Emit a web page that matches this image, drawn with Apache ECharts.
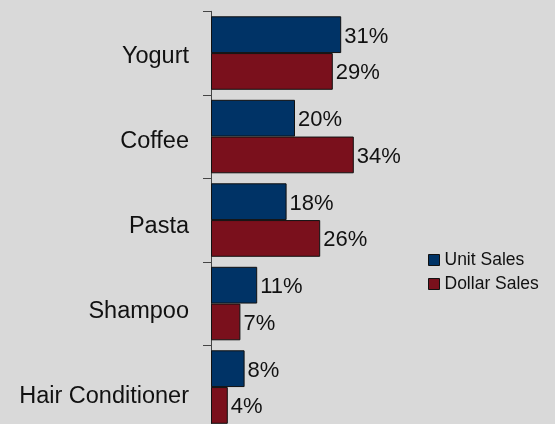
<!DOCTYPE html>
<html>
<head>
<meta charset="utf-8">
<script src="https://cdn.jsdelivr.net/npm/echarts@6/dist/echarts.min.js"></script>
<style>
html,body{margin:0;padding:0;background:#d9d9d9;}
#chart{width:555px;height:424px;}
</style>
</head>
<body>
<div id="chart"></div>
<script>
const categories = ['Yogurt', 'Coffee', 'Pasta', 'Shampoo', 'Hair Conditioner'];
const unitSales = [31, 20, 18, 11, 8];
const dollarSales = [29, 34, 26, 7, 4];
const seriesNames = ['Unit Sales', 'Dollar Sales'];

const FONT = 'Liberation Sans, Arial, sans-serif';
const chart = echarts.init(document.getElementById('chart'));
const labelStyle = {
  show: true, position: 'right', distance: 3, offset: [0, 2],
  fontFamily: FONT, fontSize: 22, color: '#111',
  formatter: p => p.value + '%'
};
chart.setOption({
  backgroundColor: '#d9d9d9',
  animation: false,
  grid: [
    { left: 211, width: 210, top: 11.3, height: 417.5, containLabel: false, outerBoundsMode: 'none' },
    { left: 211, width: 210, top: 14, height: 425.5, containLabel: false, outerBoundsMode: 'none' }
  ],
  legend: {
    data: seriesNames,
    orient: 'vertical',
    left: 428, top: 251, padding: 0,
    itemWidth: 11, itemHeight: 11, itemGap: 6,
    icon: 'rect',
    itemStyle: { borderColor: '#111', borderWidth: 1 },
    textStyle: { fontFamily: FONT, fontSize: 17.5, color: '#111' }
  },
  xAxis: [
    { type: 'value', min: 0, max: 50, show: false, gridIndex: 0 },
    { type: 'value', min: 0, max: 50, show: false, gridIndex: 1 }
  ],
  yAxis: [
    {
      type: 'category', data: categories, inverse: true, gridIndex: 0,
      axisLine: { show: true, lineStyle: { color: '#444', width: 1 } },
      axisTick: { show: true, length: 8, lineStyle: { color: '#444' } },
      axisLabel: { show: false }
    },
    {
      type: 'category', data: categories, inverse: true, gridIndex: 1,
      axisLine: { show: false }, axisTick: { show: false },
      axisLabel: { fontFamily: FONT, fontSize: 23.5, color: '#111', margin: 22 }
    }
  ],
  series: [
    { name: seriesNames[0], type: 'bar', data: unitSales, barGap: '0%', barCategoryGap: '12%',
      itemStyle: { color: '#003366', borderColor: '#111', borderWidth: 1 }, label: labelStyle },
    { name: seriesNames[1], type: 'bar', data: dollarSales, barGap: '0%', barCategoryGap: '12%',
      itemStyle: { color: '#7a101c', borderColor: '#111', borderWidth: 1 }, label: labelStyle }
  ]
});
</script>
</body>
</html>
